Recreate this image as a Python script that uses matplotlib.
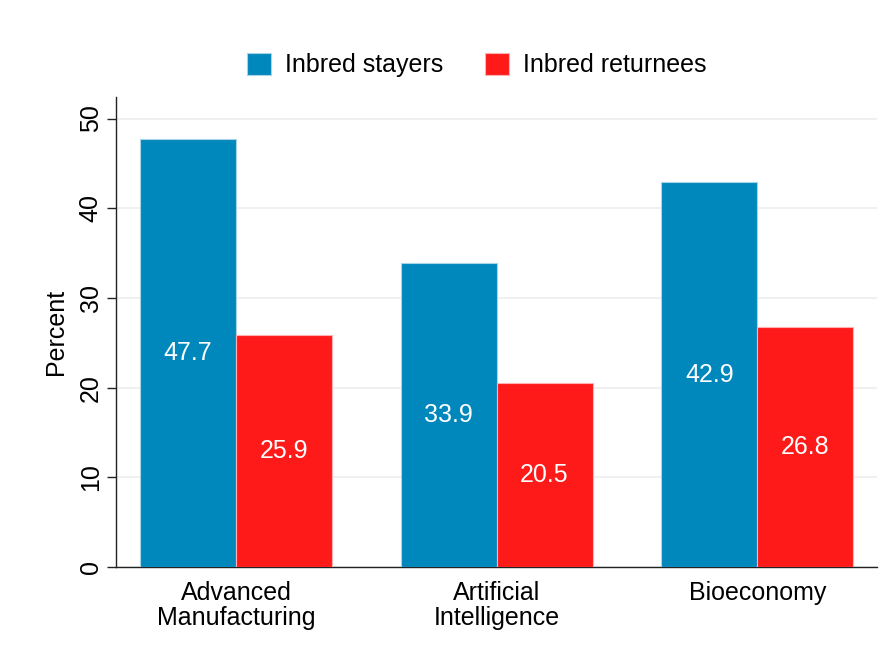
import matplotlib
matplotlib.use("Agg")
import matplotlib.pyplot as plt
import numpy as np

# data
categories = ["Advanced\nManufacturing", "Artificial\nIntelligence", "Bioeconomy"]
stayers = [47.7, 33.9, 42.9]
returnees = [25.9, 20.5, 26.8]
series_names = ["Inbred stayers", "Inbred returnees"]
y_ticks = [0, 10, 20, 30, 40, 50]

blue = "#0087bc"
red = "#ff1a1a"

plt.rcParams["font.family"] = ["Liberation Sans", "DejaVu Sans"]
plt.rcParams["font.size"] = 18

fig = plt.figure(figsize=(8.86, 6.51), dpi=100)
ax = fig.add_axes([0.131, 0.129, 0.859, 0.722])

x = np.arange(len(categories))
w = 0.368
b1 = ax.bar(x - w / 2, stayers, w, color=blue, edgecolor="#a8d4e8", linewidth=0.8,
            label=series_names[0], zorder=3)
b2 = ax.bar(x + w / 2, returnees, w, color=red, edgecolor="#ffb0b0", linewidth=0.8,
            label=series_names[1], zorder=3)

# value labels in the middle of each bar
for bars, vals in ((b1, stayers), (b2, returnees)):
    for rect, v in zip(bars, vals):
        ax.text(rect.get_x() + rect.get_width() / 2, v / 2, f"{v:.1f}",
                ha="center", va="center", color="white", fontsize=18, zorder=4)

ax.set_xlim(-0.46, 2.46)
ax.set_ylim(0, 52.4)
ax.set_xticks(x)
ax.set_xticklabels(categories, linespacing=1.08)
ax.set_yticks(y_ticks)
ax.set_yticklabels([str(t) for t in y_ticks], rotation=90, va="center")
ax.set_ylabel("Percent", labelpad=8)

ax.grid(axis="y", color="#eeeeee", linewidth=1.2, zorder=0)
ax.set_axisbelow(True)
for s in ("top", "right"):
    ax.spines[s].set_visible(False)
for s in ("left", "bottom"):
    ax.spines[s].set_color("#222222")
    ax.spines[s].set_linewidth(1.0)
ax.tick_params(axis="x", length=0, pad=10)
ax.tick_params(axis="y", length=6.5, width=1.0, color="#222222", pad=3)

fig.legend(handles=[b1, b2], labels=series_names, loc="center",
           bbox_to_anchor=(0.538, 0.9), ncol=2, frameon=False, fontsize=18,
           handlelength=0.96, handleheight=0.96, handletextpad=0.56,
           columnspacing=1.64)

fig.savefig("out.png", dpi=100, facecolor="white")
